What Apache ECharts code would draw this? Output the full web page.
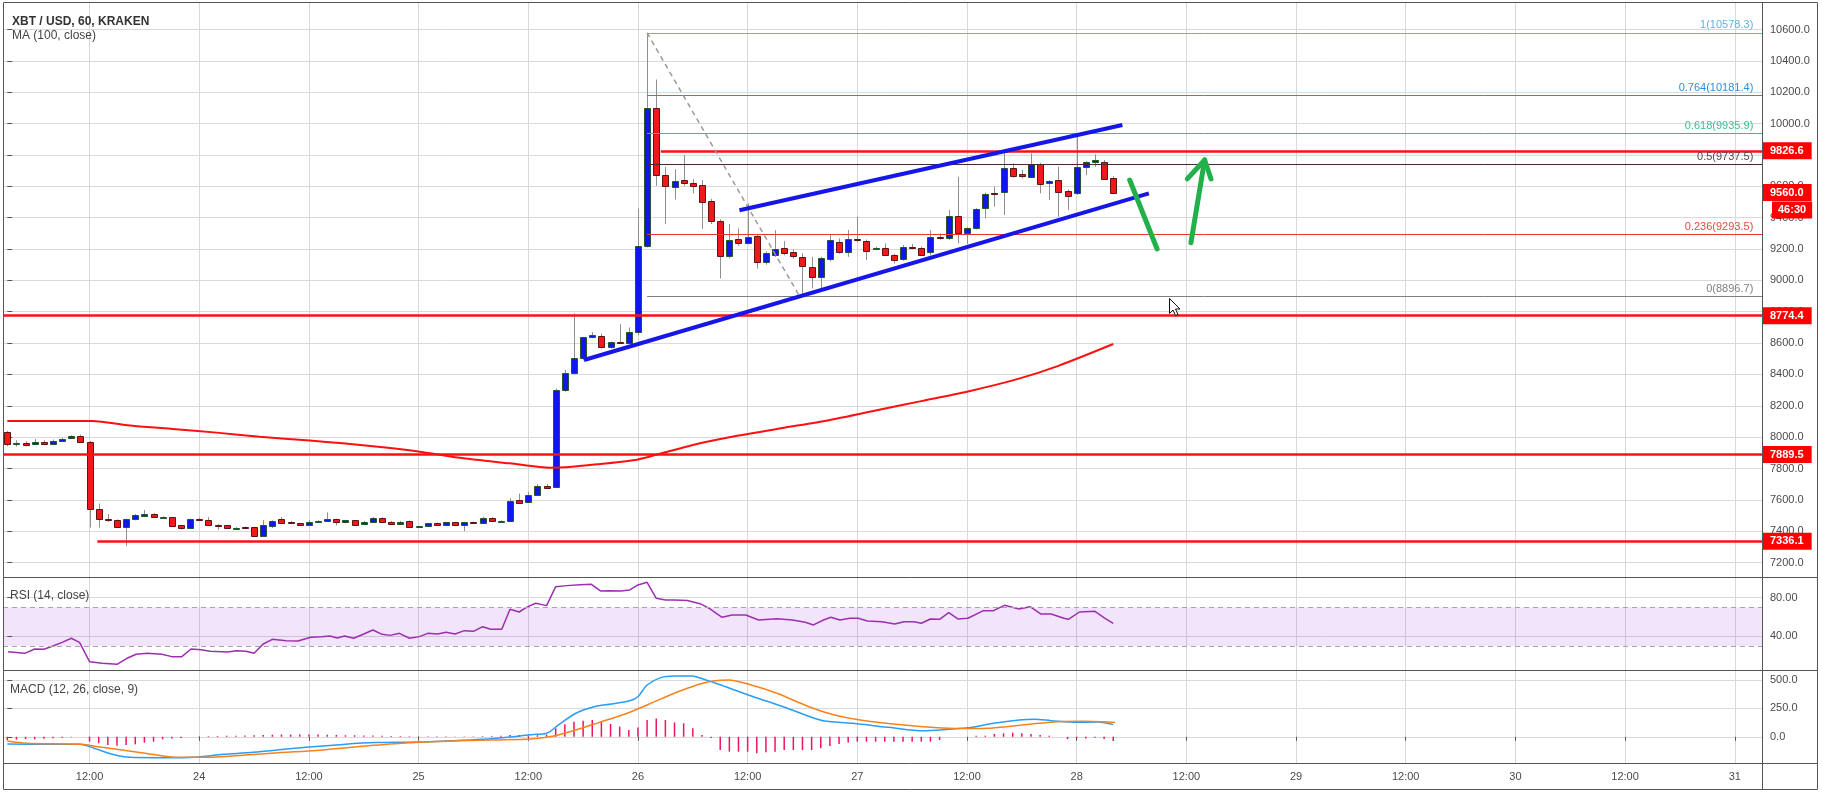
<!DOCTYPE html>
<html><head><meta charset="utf-8">
<script src="https://cdn.jsdelivr.net/npm/echarts@6/dist/echarts.min.js"></script>
<style>html,body{margin:0;padding:0;background:#fff;}#c{width:1822px;height:792px;}</style>
</head><body><div id="c"></div>
<script>
// ---------- DATA (hourly candles, index 0 = 23 Mar 03:00) ----------
const candleOpen = [8032,7960,7966,7958,7972,7958,7977,7992,8010,7972,
7545,7477,7471,7424,7475,7499,7509,7490,7488,7437,
7422,7477,7471,7443,7437,7422,7427,7424,7372,7433,
7477,7458,7450,7437,7466,7465,7477,7456,7469,7446,
7462,7486,7456,7448,7465,7429,7433,7450,7443,7456,
7437,7458,7454,7482,7465,7467,7598,7587,7628,7687,
7680,8300,8407,8502,8640,8645,8572,8606,8602,8668,
9221,10097,9675,9597,9637,9624,9607,9505,9380,9157,
9263,9240,9282,9114,9165,9206,9179,9151,9085,9023,
9134,9243,9179,9266,9251,9204,9204,9162,9134,9213,
9209,9179,9277,9268,9413,9300,9332,9459,9557,9566,
9715,9678,9661,9742,9621,9640,9570,9555,9721,9755,
9755,9651];
const candleClose = [7958,7962,7951,7970,7958,7977,7989,8006,7968,7545,
7479,7469,7424,7477,7503,7513,7488,7491,7435,7422,
7477,7469,7443,7435,7418,7423,7422,7372,7437,7465,
7454,7450,7443,7462,7467,7477,7456,7469,7443,7462,
7486,7456,7448,7462,7429,7431,7450,7443,7456,7437,
7456,7454,7482,7463,7467,7596,7583,7628,7687,7674,
8300,8407,8502,8636,8651,8572,8604,8600,8668,9221,
10097,9675,9603,9635,9622,9603,9501,9380,9157,9257,
9236,9278,9119,9172,9201,9172,9158,9094,9023,9141,
9257,9179,9264,9257,9190,9206,9164,9130,9211,9209,
9164,9274,9268,9413,9300,9332,9455,9553,9551,9715,
9668,9664,9742,9613,9634,9566,9540,9721,9753,9768,
9649,9560];
const candleLow = [7942,7940,7940,7952,7953,7953,7974,7988,7964,7424,
7424,7460,7420,7306,7470,7495,7485,7485,7430,7410,
7420,7465,7440,7408,7415,7419,7418,7368,7368,7420,
7450,7446,7440,7434,7463,7462,7437,7452,7440,7443,
7460,7453,7444,7445,7426,7426,7430,7440,7440,7433,
7401,7450,7450,7460,7462,7465,7578,7583,7624,7670,
7675,8290,8400,8490,8630,8565,8565,8595,8598,8650,
9210,9603,9359,9516,9603,9555,9327,9359,9012,9140,
9220,9230,9075,9100,9150,9160,9140,8897,8949,8949,
9120,9170,9150,9245,9130,9195,9155,9108,9125,9200,
9155,9162,9260,9258,9236,9232,9325,9395,9470,9417,
9655,9650,9655,9555,9513,9406,9449,9545,9672,9725,
9640,9550];
const candleHigh = [8040,7980,7975,7988,7980,7985,7996,8012,8016,7976,
7577,7509,7476,7480,7510,7535,7515,7495,7492,7440,
7480,7487,7490,7445,7440,7426,7429,7428,7471,7470,
7490,7465,7453,7470,7471,7520,7480,7473,7472,7466,
7490,7489,7465,7466,7468,7434,7453,7456,7460,7460,
7460,7462,7492,7490,7470,7610,7640,7650,7700,7700,
8310,8428,8789,8640,8670,8660,8610,8721,8700,9459,
10578.3,10281,9724,9709,9799,9645,9640,9520,9390,9359,
9331,9491,9290,9185,9320,9250,9200,9172,9150,9150,
9289,9268,9321,9406,9260,9215,9236,9170,9226,9232,
9215,9321,9300,9449,9661,9340,9460,9560,9598,9832,
9746,9704,9810,9750,9640,9725,9580,9927,9760,9804,
9768,9665];

// MA(100): [hour index, value]
const maPoints = [[0,8103],[9.2,8103],[13.7,8073],[18.1,8052],[22.9,8029],[27.6,8003],[33.1,7978],[36.7,7961],[41.1,7935],[45.5,7904],[49.9,7865],[55,7833],[59.4,7805],[61.1,7808],[64.5,7827],[69,7858],[75,7950],[80,8010],[85,8060],[90,8110],[95,8170],[100,8230],[105,8290],[110.5,8370],[115,8455],[121,8594]];

// RSI(14)
const rsiPoints = [[0.08,24.1],[1.9,22.4],[3,26.9],[4,26.6],[5,30],[6,33.8],[7,38],[7.9,33.8],[9,13.8],[10.4,12.1],[12,11],[13.1,17.3],[14.1,21.4],[15.3,22.4],[16.9,21.4],[18,19],[19.1,19],[20.1,26.9],[21.2,26.2],[22.2,24.5],[24.1,23.8],[25.1,25.2],[26.1,24.5],[27,22.4],[28,32.1],[29,36.9],[30.5,35.5],[31.8,35.2],[33.2,39],[34.4,39.7],[35.3,40.4],[36.1,38.3],[36.9,40.4],[37.9,38],[39,42.4],[40,46.6],[41,42.1],[41.9,41],[42.9,43.1],[44,38],[45.1,39.7],[46,43.1],[47.1,42.4],[48,44.2],[49,42.4],[50,45.9],[51,45.2],[52,50],[52.9,47.3],[54.1,47.3],[55,68],[56,65.2],[56.8,70],[57.8,74.2],[59,71.8],[60,91.4],[61.2,92.5],[62.7,93.5],[63.9,93.8],[64.9,87],[65.9,87.3],[67.1,87],[68.1,88],[69,93.2],[70,95.9],[71,79.4],[72,77.6],[73,77.6],[74.4,77],[75.8,73.8],[76.8,69],[78.2,59.7],[79.3,62.1],[80.8,62.1],[82.2,56.9],[84.2,58.3],[85.9,56.9],[87.3,54.5],[88.2,51.8],[89.3,56.9],[90.1,59.7],[91.1,56.9],[92.2,58.7],[93.1,58.7],[94.1,55.9],[95.7,55.2],[97.1,52.8],[98.1,55.2],[99.2,55.2],[100,53.5],[101,58],[102,57.6],[103,64.5],[104,58],[105.1,58.7],[106.8,66.6],[107.9,66.6],[109.1,72.1],[110.7,68.3],[111.9,70.7],[113.1,63.1],[114.2,63.1],[115.6,58.7],[116.1,57.6],[117.3,65.2],[119,65.9],[120.1,58.7],[121,53.5]];

// MACD(12,26,9)
const macdPoints = [[0,-63],[4,-66],[8,-66],[9.5,-101],[11.4,-151],[13.4,-181],[16.3,-184],[18.7,-184],[21.2,-175],[23.6,-154],[26.6,-139],[29.5,-116],[33.4,-87],[36.3,-69],[40.2,-51],[45.1,-46],[48,-37],[51.9,-22],[55.4,1],[57.3,19],[59,31],[60.3,104],[62.2,207],[64.2,265],[66.1,289],[68.1,318],[69,353],[70,456],[71.5,521],[73,535],[74.9,535],[75.8,518],[78.6,441],[81.4,359],[84.9,265],[88.3,163],[89.4,139],[92.5,119],[96.7,81],[100.2,54],[103,66],[105.4,81],[107.9,119],[110.7,148],[112.4,154],[114.2,142],[117,127],[119.4,130],[121,107]];
const signalPoints = [[0,-37],[2.1,-57],[8,-66],[10.4,-93],[13.9,-131],[16.3,-160],[18.7,-181],[21.2,-181],[24.6,-169],[28.5,-146],[33.4,-122],[38.3,-87],[43.2,-57],[48,-40],[52.9,-28],[57.3,-19],[59.8,7],[62.2,60],[64.7,125],[67.6,201],[70,280],[72.5,368],[74.4,427],[75.8,465],[77.2,491],[78.9,500],[81.4,456],[84.2,383],[87.7,265],[90.5,192],[93.3,148],[98.1,104],[102.3,78],[105.1,72],[107.2,75],[109.3,89],[112.8,119],[114.9,133],[117.7,136],[120.5,130],[121.2,125]];
const histPoints = [[0,-30],[1,-25],[2,-20],[3,-22],[4,-18],[5,-12],[6,-8],[7,-4],[9,-43],[10,-57],[11,-72],[12,-78],[13,-72],[14,-66],[15,-51],[16,-43],[17,-22],[18,-16],[19,-10],[21,5],[22,6],[23,8],[24,10],[25,10],[26,12],[27,14],[28,16],[29,18],[30,20],[31,20],[32,20],[33,20],[34,20],[35,18],[36,16],[37,14],[38,14],[39,12],[40,12],[41,10],[42,8],[43,6],[44,5],[45,4],[46,4],[47,4],[48,4],[49,3],[50,3],[51,4],[52,6],[53,8],[54,10],[55,15],[56,15],[57,12],[58,14],[59,20],[60,75],[61,110],[62,133],[63,142],[64,148],[65,133],[66,113],[67,89],[68,60],[69,81],[70,148],[71,160],[72,148],[73,127],[74,119],[75,75],[76,15],[77,-10],[78,-117],[79,-131],[80,-131],[81,-131],[82,-145],[83,-137],[84,-131],[85,-117],[86,-117],[87,-117],[88,-117],[89,-101],[90,-81],[91,-63],[92,-51],[93,-43],[94,-43],[95,-43],[96,-43],[97,-43],[98,-43],[99,-43],[100,-43],[101,-43],[102,-28],[106,10],[107,10],[108,25],[109,31],[110,37],[111,31],[112,25],[113,16],[114,10],[116,-20],[117,-14],[118,-14],[119,-8],[120,-20],[121,-37]];

// Axis ticks / labels
const xTickIdx  = [9,21,33,45,57,69,81,93,105,117,129,141,153,165,177,189];
const xTickText = ['12:00','24','12:00','25','12:00','26','12:00','27','12:00','28','12:00','29','12:00','30','12:00','31'];
const priceTicks = [7200,7400,7600,7800,8000,8200,8400,8600,8800,9000,9200,9400,9600,9800,10000,10200,10400,10600];
const rsiTicks = [40,80];
const macdTicks = [0,250,500];

// Drawn levels
const redLevels = [8774.4, 7889.5, 7336.1, 9826.6];
const redLevelStart = [null, null, 9.85, 71.5];
const fibRatios = ['1','0.764','0.618','0.5','0.236','0'];
const fibValues = [10578.3, 10181.4, 9935.9, 9737.5, 9293.5, 8896.7];
const fibStartIdx = 70;
const lastPrice = 9560.0;
const countdown = '46:30';

// Drawings (hour index, price)
const trendLower = [[63.1,8492],[124.9,9555]];
const trendUpper = [[80.1,9447],[122,9991]];
const fibDiagonal = [[70,10578.3],[86.7,8896.7]];
const greenDown = [[122.8,9640],[125.8,9200]];
const greenUp = [[129.5,9240],[131,9768]];
const greenHead = [[129.1,9647],[131,9768],[131.7,9647]];

// ---------- LAYOUT ----------
const FONT = "'Liberation Sans', Arial, sans-serif";
const X_MIN = -0.47, X_MAX = 191.98;
const GRID_COLOR = '#d9d9d9';
const AX_TXT = '#4a4a4a';

function xAxisCfg(g, show){
  return {type:'value', gridIndex:g, min:X_MIN, max:X_MAX,
    axisLine:{show:false},
    axisTick:{show:show, customValues:xTickIdx, length:4, lineStyle:{color:'#555'}},
    axisLabel:{show:show, customValues:xTickIdx, color:AX_TXT, fontSize:11, fontFamily:FONT, margin:8,
      formatter:v=>{const k=xTickIdx.indexOf(Math.round(v)); return k>=0?xTickText[k]:'';}},
    splitLine:{show:true, lineStyle:{color:GRID_COLOR, width:1}}};
}
function yAxisCfg(g, min, max, ticks, dec){
  return {type:'value', gridIndex:g, position:'right', min:min, max:max,
    axisLine:{show:false},
    axisTick:{show:true, customValues:ticks, length:5, lineStyle:{color:'#555'}},
    axisLabel:{customValues:ticks, color:AX_TXT, fontSize:11, fontFamily:FONT, margin:8, formatter:v=>Number(v).toFixed(dec)},
    splitLine:{show:true, lineStyle:{color:GRID_COLOR, width:1}}};
}

const boxLabel = (txt)=>({show:true, position:'end', distance:[0,0], formatter:txt,
  backgroundColor:'#ff0000', color:'#fff', fontSize:11, fontWeight:'bold', fontFamily:FONT,
  padding:[3,8,2,8], lineHeight:12});

const mlData = [];
redLevels.forEach((v,i)=>{
  const s = redLevelStart[i]===null ? X_MIN : redLevelStart[i];
  mlData.push([{coord:[s,v], lineStyle:{color:'#ff1010', width:2.5, type:'solid'}, label:boxLabel(v.toFixed(1))},{coord:[X_MAX,v]}]);
});
const fibLineColors = ['#5ab4e6','#2a8fd8','#3cbb8c','#4a2636','#e8352f','#7f7f7f'];
const fibTextColors = ['#5fb3e4','#2f8fd6','#3dbd8d','#5a4450','#e44a40','#808080'];
fibValues.forEach((v,i)=>{
  mlData.push([{coord:[fibStartIdx,v], lineStyle:{color:fibLineColors[i], width:1, type:'solid'},
    label:{show:true, position:'insideEndTop', distance:[8.7,2], formatter:fibRatios[i]+'('+v.toFixed(1)+')',
      color:fibTextColors[i], fontSize:11, fontFamily:FONT}},{coord:[X_MAX,v]}]);
});
mlData.push([{coord:[X_MAX-1,lastPrice], lineStyle:{color:'transparent', width:0}, label:boxLabel(lastPrice.toFixed(1))},{coord:[X_MAX,lastPrice]}]);
mlData.push([{coord:[X_MAX-1,lastPrice], lineStyle:{color:'transparent', width:0},
  label:Object.assign(boxLabel(countdown),{distance:[10,0], offset:[0,17.5], padding:[3,6,2,6]})},{coord:[X_MAX,lastPrice]}]);

const candleData = candleOpen.map((o,i)=>[i,o,candleClose[i],candleLow[i],candleHigh[i]]);

const chart = echarts.init(document.getElementById('c'), null, {renderer:'canvas'});
chart.setOption({
  animation:false,
  backgroundColor:'#ffffff',
  title:[
    {text:'XBT / USD, 60, KRAKEN', left:12, top:16, padding:0, textStyle:{fontFamily:FONT, fontSize:12, fontWeight:'bold', color:'#333'}},
    {text:'MA (100, close)', left:12, top:30, padding:0, textStyle:{fontFamily:FONT, fontSize:12, fontWeight:'normal', color:'#444'}},
    {text:'RSI (14, close)', left:10, top:590, padding:0, textStyle:{fontFamily:FONT, fontSize:12, fontWeight:'normal', color:'#444'}},
    {text:'MACD (12, 26, close, 9)', left:10, top:684, padding:0, textStyle:{fontFamily:FONT, fontSize:12, fontWeight:'normal', color:'#444'}}
  ],
  grid:[
    {left:3, right:60, top:2, height:575},
    {left:3, right:60, top:577, height:93},
    {left:3, right:60, top:670, height:93}
  ],
  xAxis:[xAxisCfg(0,false), xAxisCfg(1,false), xAxisCfg(2,true)],
  yAxis:[yAxisCfg(0,7108.2,10775.4,priceTicks,1), yAxisCfg(1,5.16,101.43,rsiTicks,2), yAxisCfg(2,-230.6,588,macdTicks,1)],
  series:[
    {type:'custom', name:'candles', xAxisIndex:0, yAxisIndex:0, z:3, data:candleData, encode:{x:0, y:[1,2,3,4]},
      renderItem:(params, api)=>{
        const i=api.value(0), o=api.value(1), c=api.value(2), l=api.value(3), h=api.value(4);
        const pO=api.coord([i,o]), pC=api.coord([i,c]), pL=api.coord([i,l]), pH=api.coord([i,h]);
        const cx=Math.round(pO[0]);
        const up=c>=o;
        const yT=Math.round(Math.min(pO[1],pC[1])), yB=Math.round(Math.max(pO[1],pC[1]));
        const hh=Math.max(yB-yT,1);
        return {type:'group', children:[
          {type:'line', shape:{x1:cx+0.5,y1:pH[1],x2:cx+0.5,y2:pL[1]}, style:{stroke:'#8f8f8f', lineWidth:1}},
          {type:'rect', shape:{x:cx-2.5,y:yT+0.5,width:6,height:hh}, style:{fill:up?'#1414ee':'#f01818', stroke:up?'#1f5a2c':'#5c1414', lineWidth:1}}
        ]};
      }},
    {type:'line', name:'MA', xAxisIndex:0, yAxisIndex:0, z:4, data:maPoints, showSymbol:false, symbol:'none', smooth:0.25,
      lineStyle:{color:'#ff1010', width:2},
      markLine:{silent:true, symbol:'none', animation:false, data:mlData}},
    {type:'line', xAxisIndex:0, yAxisIndex:0, z:5, data:fibDiagonal, symbol:'none', lineStyle:{color:'#9a9a9a', width:1.5, type:[5,4]}},
    {type:'line', xAxisIndex:0, yAxisIndex:0, z:6, data:trendLower, symbol:'none', lineStyle:{color:'#1616e6', width:4}},
    {type:'line', xAxisIndex:0, yAxisIndex:0, z:6, data:trendUpper, symbol:'none', lineStyle:{color:'#1616e6', width:4}},
    {type:'line', xAxisIndex:0, yAxisIndex:0, z:7, data:greenDown, symbol:'none', lineStyle:{color:'#22b04a', width:5, cap:'round'}},
    {type:'line', xAxisIndex:0, yAxisIndex:0, z:7, data:greenUp, symbol:'none', lineStyle:{color:'#22b04a', width:5, cap:'round'}},
    {type:'line', xAxisIndex:0, yAxisIndex:0, z:7, data:greenHead, symbol:'none', lineStyle:{color:'#22b04a', width:5, cap:'round', join:'round'}},
    // RSI band helper
    {type:'line', xAxisIndex:1, yAxisIndex:1, z:1, data:[[X_MIN,50]], symbol:'none', lineStyle:{width:0, color:'transparent'},
      markArea:{silent:true, itemStyle:{color:'rgba(150,40,220,0.12)'}, data:[[{yAxis:30},{yAxis:70}]]},
      markLine:{silent:true, symbol:'none', label:{show:false}, lineStyle:{color:'#a6a6a6', type:[5,4], width:1}, data:[{yAxis:30},{yAxis:70}]}},
    {type:'line', name:'RSI', xAxisIndex:1, yAxisIndex:1, z:3, data:rsiPoints, symbol:'none', lineStyle:{color:'#9b2fae', width:1.5}},
    {type:'bar', name:'Hist', xAxisIndex:2, yAxisIndex:2, z:2, data:histPoints, barWidth:1.5, itemStyle:{color:'#f0145a'}},
    {type:'line', name:'MACD', xAxisIndex:2, yAxisIndex:2, z:3, data:macdPoints, symbol:'none', smooth:0.3, lineStyle:{color:'#2a9df4', width:1.5}},
    {type:'line', name:'Signal', xAxisIndex:2, yAxisIndex:2, z:3, data:signalPoints, symbol:'none', smooth:0.3, lineStyle:{color:'#f7821b', width:1.5}}
  ],
  graphic:[
    {type:'rect', silent:true, z:100, shape:{x:3.5,y:2.5,width:1814,height:787}, style:{fill:'none', stroke:'#555', lineWidth:1}},
    {type:'line', silent:true, z:100, shape:{x1:3.5,y1:577.5,x2:1817.5,y2:577.5}, style:{stroke:'#555', lineWidth:1}},
    {type:'line', silent:true, z:100, shape:{x1:3.5,y1:670.5,x2:1817.5,y2:670.5}, style:{stroke:'#555', lineWidth:1}},
    {type:'line', silent:true, z:100, shape:{x1:3.5,y1:763.5,x2:1817.5,y2:763.5}, style:{stroke:'#555', lineWidth:1}},
    {type:'line', silent:true, z:100, shape:{x1:1762.5,y1:2.5,x2:1762.5,y2:789.5}, style:{stroke:'#555', lineWidth:1}},
    {type:'polygon', silent:true, z:101, x:1169.5, y:298.5,
      shape:{points:[[0,0],[0,15],[3.5,11.5],[6,17],[8.5,16],[6,10.5],[10.5,10.5]]},
      style:{fill:'#fff', stroke:'#111', lineWidth:1}}
  ]
});
</script></body></html>
